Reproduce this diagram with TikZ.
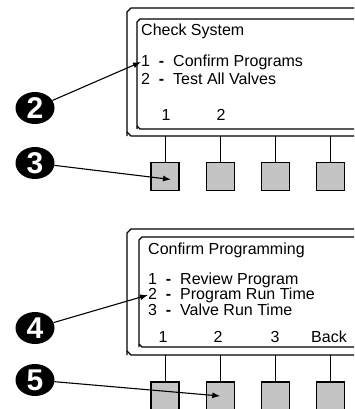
\documentclass[tikz,border=0pt]{standalone}
\usepackage{fontspec}
\setmainfont{Liberation Sans}
\usepackage{tikz}
\usetikzlibrary{positioning, arrows.meta, shapes.geometric, calc}
\definecolor{keygray}{RGB}{196,196,196}

\begin{document}
\begin{tikzpicture}[x=1pt, y=-1pt, node distance=55.3pt,
    frame/.style={line width=1.3pt},
    stem/.style={line width=1pt},
    key/.style={rectangle, draw, line width=1.1pt, fill=keygray, minimum size=28pt, inner sep=0pt},
    txt/.style={anchor=west, inner sep=0pt, font=\fontsize{16}{16}\selectfont},
    soft/.style={inner sep=0pt, font=\fontsize{16}{16}\selectfont},
    callout/.style={ellipse, fill=black, text=white, minimum width=39pt, minimum height=32pt, inner sep=0pt, font=\fontsize{30}{30}\bfseries\selectfont},
    pointer/.style={-{Latex[length=8pt,width=6pt]}, line width=1.1pt}]
    \useasboundingbox (0,0) rectangle (354,409);
    \clip (0,0) rectangle (354,409);

    % first screen
    \draw[frame] (127,136) -- (127,12) -- (131,8) -- (362,8);
    \draw[frame] (362,136) -- (131,136) -- (127,132);
    \draw[frame] (137,129) -- (137,22) -- (140,19) -- (362,19);
    \draw[frame] (362,129) -- (140,129) -- (137,126);
    \coordinate (baseA) at (0,136);

    \node (headA) [txt] at (141,31) {Check System};
    \node (optA) [txt] at (141,62) {1\ \ {\bfseries -}\ \ Confirm Programs};
    \node (optB) [txt] at (141,79) {2\ \ {\bfseries -}\ \ Test All Valves};
    \node (softA1) [soft] at (166,115) {1};
    \node (softA2) [soft] at (221,115) {2};

    \node (keyA1) [key] at (165,176.5) {};
    \node (keyA2) [key, right of=keyA1] {};
    \node (keyA3) [key, right of=keyA2] {};
    \node (keyA4) [key, right of=keyA3] {};
    \foreach \k in {keyA1, keyA2, keyA3, keyA4}
        \draw[stem] (\k.north) -- (\k |- baseA);

    % second screen
    \draw[frame] (127,355) -- (127,233) -- (131,229) -- (362,229);
    \draw[frame] (362,355) -- (131,355) -- (127,351);
    \draw[frame] (139,347) -- (139,240) -- (142,237) -- (362,237);
    \draw[frame] (362,347) -- (142,347) -- (139,344);
    \coordinate (baseB) at (0,355);

    \node (headB) [txt] at (148,250) {Confirm Programming};
    \node (optC) [txt] at (148,280) {1\ \ {\bfseries -}\ \ Review Program};
    \node (optE) [txt] at (148,295) {2\ \ {\bfseries -}\ \ Program Run Time};
    \node (optF) [txt] at (148,310) {3\ \ {\bfseries -}\ \ Valve Run Time};
    \node (softB1) [soft] at (163,337) {1};
    \node (softB2) [soft] at (218,337) {2};
    \node (softB3) [soft] at (275,337) {3};
    \node (softB4) [soft] at (329,337) {Back};

    \node (keyB1) [key] at (165,396) {};
    \node (keyB2) [key, right of=keyB1] {};
    \node (keyB3) [key, right of=keyB2] {};
    \node (keyB4) [key, right of=keyB3] {};
    \foreach \k in {keyB1, keyB2, keyB3, keyB4}
        \draw[stem] (\k.north) -- (\k |- baseB);

    % callouts
    \node (two) [callout] at (35,108) {2};
    \node (three) [callout] at (35,163) {3};
    \node (four) [callout] at (35,328) {4};
    \node (five) [callout] at (35,380) {5};

    \draw[pointer] (two) -- (optA.west);
    \draw[pointer] (three) -- ([shift={(6,3)}]keyA1.center);
    \draw[pointer] (four) -- (optE.west);
    \draw[pointer] (five) -- (keyB2.center);
\end{tikzpicture}
\end{document}
